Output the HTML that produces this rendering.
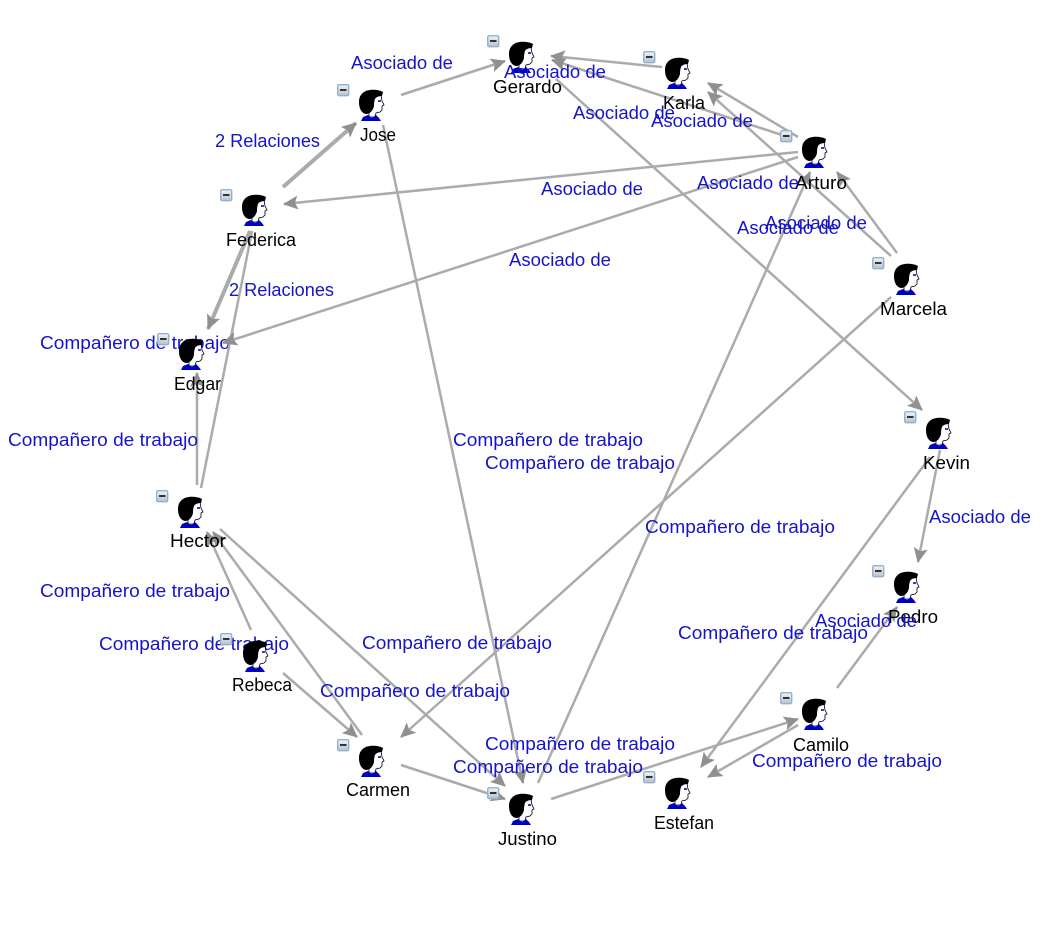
<!DOCTYPE html>
<html lang="es"><head><meta charset="utf-8"><title>Red de relaciones</title>
<style>
html,body{margin:0;padding:0;background:#fff;width:1050px;height:927px;overflow:hidden}
svg{display:block;font-family:"Liberation Sans",sans-serif;font-size:18px}
.e line{stroke:#ababab;stroke-width:2.5;marker-end:url(#a)}
.e line.n{marker-end:none}
.e line.t{stroke-width:4}
.b text{fill:#1414cc}
.k text{fill:#000}
</style></head><body>
<svg width="1050" height="927" viewBox="0 0 1050 927" xmlns="http://www.w3.org/2000/svg">
<defs>
<linearGradient id="g" x1="0" y1="0" x2="0" y2="1"><stop offset="0" stop-color="#f2f4f6"/><stop offset="1" stop-color="#b9c0c6"/></linearGradient>
<marker id="a" markerUnits="userSpaceOnUse" markerWidth="18" markerHeight="16" refX="14" refY="7" orient="auto"><path d="M0 0L15 7L0 14L3 7Z" fill="#909090"/></marker>
<g id="p">
<path d="M13 6L22 5L23 11L25 15L23 16L23 20L21 22L17 23L16 27L10 27L10 20Z" fill="#fff" stroke="#000" stroke-width=".8"/>
<path d="M5 2C9-1 19-1 24 2L23 6C20 6 17 7 16 9C15 12 15 14 15 16C14 20 12 23 8 24C3 24 0 19 0 12C0 7 2 4 5 2Z" fill="#000"/>
<path d="M19 10h3v2h-3z" fill="#3344aa"/>
<path d="M2 31L4 27L9 25L13 28L17 25L20 28L22 31Z" fill="#0000c0"/>
</g>
<g id="m">
<rect x=".7" y=".7" width="11" height="11" rx="1.500" fill="url(#g)" stroke="#8fb3d6" stroke-width="1.400"/>
<rect x="3" y="5" width="6.500" height="2" fill="#333"/>
</g>
</defs>
<rect width="1050" height="927" fill="#fff"/>

<g class="b">
<text x="40" y="349" textLength="190" lengthAdjust="spacingAndGlyphs">Compañero de trabajo</text>
<text x="99" y="650" textLength="190" lengthAdjust="spacingAndGlyphs">Compañero de trabajo</text>
</g>

<g class="e">
<line x1="401" y1="95" x2="505" y2="61"/>
<line class="t" x1="283" y1="187" x2="356" y2="123"/>
<line class="t" x1="250" y1="231" x2="208" y2="329"/>
<line class="n" x1="201" y1="488" x2="252" y2="231"/>
<line x1="197" y1="485" x2="197" y2="373"/>
<line x1="798" y1="152" x2="284" y2="204"/>
<line x1="798" y1="157" x2="223" y2="343"/>
<line x1="798" y1="137" x2="708" y2="83"/>
<line x1="782" y1="135" x2="552" y2="60"/>
<line x1="662" y1="67" x2="551" y2="56"/>
<line x1="891" y1="256" x2="708" y2="92"/>
<line x1="897" y1="253" x2="837" y2="172"/>
<line x1="556" y1="79" x2="922" y2="410"/>
<line x1="940" y1="450" x2="918" y2="562"/>
<line x1="930" y1="457" x2="701" y2="767"/>
<line x1="891" y1="297" x2="401" y2="737"/>
<line x1="538" y1="783" x2="810" y2="172"/>
<line x1="383" y1="125" x2="523" y2="783"/>
<line x1="837" y1="688" x2="897" y2="607"/>
<line x1="798" y1="725" x2="708" y2="777"/>
<line x1="551" y1="799" x2="798" y2="719"/>
<line x1="401" y1="765" x2="505" y2="799"/>
<line x1="283" y1="673" x2="357" y2="737"/>
<line x1="362" y1="735" x2="213" y2="532"/>
<line x1="220" y1="529" x2="505" y2="786"/>
<line x1="251" y1="630" x2="207" y2="532"/>
</g>

<use href="#p" x="359" y="90"/><use href="#m" x="337" y="84"/>
<use href="#p" x="509" y="42"/><use href="#m" x="487" y="35"/>
<use href="#p" x="665" y="58"/><use href="#m" x="643" y="51"/>
<use href="#p" x="802" y="137"/><use href="#m" x="780" y="130"/>
<use href="#p" x="894" y="264"/><use href="#m" x="872" y="257"/>
<use href="#p" x="926" y="418"/><use href="#m" x="904" y="411"/>
<use href="#p" x="894" y="572"/><use href="#m" x="872" y="565"/>
<use href="#p" x="802" y="699"/><use href="#m" x="780" y="692"/>
<use href="#p" x="665" y="778"/><use href="#m" x="643" y="771"/>
<use href="#p" x="509" y="794"/><use href="#m" x="487" y="787"/>
<use href="#p" x="359" y="746"/><use href="#m" x="337" y="739"/>
<use href="#p" x="243" y="641"/><use href="#m" x="220" y="633"/>
<use href="#m" x="157" y="333"/><use href="#p" x="179" y="339"/>
<use href="#p" x="178" y="497"/><use href="#m" x="156" y="490"/>
<use href="#p" x="242" y="195"/><use href="#m" x="220" y="189"/>

<g class="k">
<text x="360" y="141" textLength="36" lengthAdjust="spacingAndGlyphs">Jose</text>
<text x="493" y="93" textLength="69" lengthAdjust="spacingAndGlyphs">Gerardo</text>
<text x="663" y="109" textLength="42" lengthAdjust="spacingAndGlyphs">Karla</text>
<text x="795" y="189" textLength="52" lengthAdjust="spacingAndGlyphs">Arturo</text>
<text x="226" y="246" textLength="70" lengthAdjust="spacingAndGlyphs">Federica</text>
<text x="880" y="315" textLength="67" lengthAdjust="spacingAndGlyphs">Marcela</text>
<text x="174" y="390" textLength="47" lengthAdjust="spacingAndGlyphs">Edgar</text>
<text x="923" y="469" textLength="47" lengthAdjust="spacingAndGlyphs">Kevin</text>
<text x="170" y="547" textLength="56" lengthAdjust="spacingAndGlyphs">Hector</text>
<text x="232" y="691" textLength="60" lengthAdjust="spacingAndGlyphs">Rebeca</text>
<text x="888" y="623" textLength="50" lengthAdjust="spacingAndGlyphs">Pedro</text>
<text x="793" y="751" textLength="56" lengthAdjust="spacingAndGlyphs">Camilo</text>
<text x="346" y="796" textLength="64" lengthAdjust="spacingAndGlyphs">Carmen</text>
<text x="498" y="845" textLength="59" lengthAdjust="spacingAndGlyphs">Justino</text>
<text x="654" y="829" textLength="60" lengthAdjust="spacingAndGlyphs">Estefan</text>
</g>

<g class="b">
<text x="351" y="69" textLength="102" lengthAdjust="spacingAndGlyphs">Asociado de</text>
<text x="504" y="78" textLength="102" lengthAdjust="spacingAndGlyphs">Asociado de</text>
<text x="573" y="119" textLength="102" lengthAdjust="spacingAndGlyphs">Asociado de</text>
<text x="651" y="127" textLength="102" lengthAdjust="spacingAndGlyphs">Asociado de</text>
<text x="697" y="189" textLength="102" lengthAdjust="spacingAndGlyphs">Asociado de</text>
<text x="765" y="229" textLength="102" lengthAdjust="spacingAndGlyphs">Asociado de</text>
<text x="737" y="234" textLength="102" lengthAdjust="spacingAndGlyphs">Asociado de</text>
<text x="541" y="195" textLength="102" lengthAdjust="spacingAndGlyphs">Asociado de</text>
<text x="509" y="266" textLength="102" lengthAdjust="spacingAndGlyphs">Asociado de</text>
<text x="929" y="523" textLength="102" lengthAdjust="spacingAndGlyphs">Asociado de</text>
<text x="815" y="627" textLength="102" lengthAdjust="spacingAndGlyphs">Asociado de</text>
<text x="215" y="147" textLength="105" lengthAdjust="spacingAndGlyphs">2 Relaciones</text>
<text x="229" y="296" textLength="105" lengthAdjust="spacingAndGlyphs">2 Relaciones</text>
<text x="8" y="446" textLength="190" lengthAdjust="spacingAndGlyphs">Compañero de trabajo</text>
<text x="453" y="446" textLength="190" lengthAdjust="spacingAndGlyphs">Compañero de trabajo</text>
<text x="485" y="469" textLength="190" lengthAdjust="spacingAndGlyphs">Compañero de trabajo</text>
<text x="645" y="533" textLength="190" lengthAdjust="spacingAndGlyphs">Compañero de trabajo</text>
<text x="40" y="597" textLength="190" lengthAdjust="spacingAndGlyphs">Compañero de trabajo</text>
<text x="362" y="649" textLength="190" lengthAdjust="spacingAndGlyphs">Compañero de trabajo</text>
<text x="678" y="639" textLength="190" lengthAdjust="spacingAndGlyphs">Compañero de trabajo</text>
<text x="320" y="697" textLength="190" lengthAdjust="spacingAndGlyphs">Compañero de trabajo</text>
<text x="485" y="750" textLength="190" lengthAdjust="spacingAndGlyphs">Compañero de trabajo</text>
<text x="453" y="773" textLength="190" lengthAdjust="spacingAndGlyphs">Compañero de trabajo</text>
<text x="752" y="767" textLength="190" lengthAdjust="spacingAndGlyphs">Compañero de trabajo</text>
</g>
</svg>
</body></html>
